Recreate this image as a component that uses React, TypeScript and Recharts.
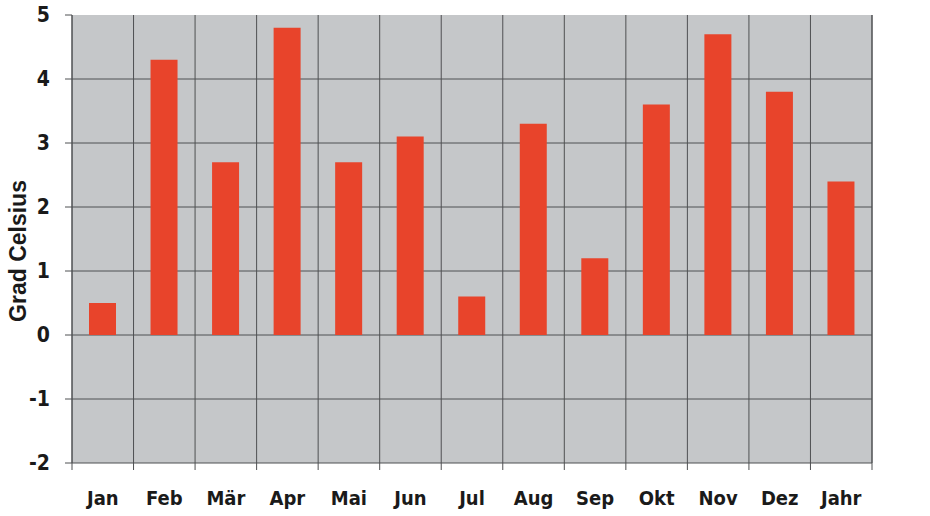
import { Bar, BarChart, CartesianGrid, XAxis, YAxis } from 'recharts'

const months = ['Jan', 'Feb', 'Mär', 'Apr', 'Mai', 'Jun', 'Jul', 'Aug', 'Sep', 'Okt', 'Nov', 'Dez', 'Jahr']
const deviation = [0.5, 4.3, 2.7, 4.8, 2.7, 3.1, 0.6, 3.3, 1.2, 3.6, 4.7, 3.8, 2.4]
const yTicks = [-2, -1, 0, 1, 2, 3, 4, 5]

const data = months.map((name, i) => ({ name, value: deviation[i] }))

const W = 930
const H = 516
const LEFT_W = 72
const RIGHT_W = 58
const STEP = (W - LEFT_W - RIGHT_W) / months.length
const FONT = '"DejaVu Sans Condensed", "Liberation Sans", Arial, sans-serif'
const GRID = '#4f5052'

const MonthTick = (props: any) => {
  const { x, y, payload, index } = props
  return (
    <g>
      <line x1={x - STEP / 2} y1={y} x2={x - STEP / 2} y2={y + 7} stroke={GRID} />
      {index === months.length - 1 && (
        <line x1={x + STEP / 2} y1={y} x2={x + STEP / 2} y2={y + 7} stroke={GRID} />
      )}
      <text x={x} y={y + 42} textAnchor='middle' fontFamily={FONT} fontWeight='bold' fontSize={20} fill='#1a1a1a'>
        {payload.value}
      </text>
    </g>
  )
}

const App = () => {
  return (
    <div style={{ position: 'absolute', left: 0, top: 0, width: W, height: H, background: '#fff' }}>
      <BarChart width={W} height={H} data={data} margin={{ top: 15, right: 0, bottom: 0, left: 0 }} barCategoryGap={0}>
        <CartesianGrid
          yAxisId='left'
          fill='#c5c7c9'
          fillOpacity={1}
          stroke={GRID}
          strokeWidth={1}
          // no line along the top edge (value 5), as in the original
          horizontalCoordinatesGenerator={({ offset }: any) =>
            yTicks.slice(0, -1).map((t) => offset.top + ((5 - t) / 7) * offset.height)
          }
          verticalCoordinatesGenerator={({ offset }: any) =>
            [...months, ''].map((_, i) => offset.left + (i * offset.width) / months.length)
          }
        />
        <XAxis
          dataKey='name'
          height={53}
          axisLine={false}
          tickLine={false}
          tickSize={0}
          tickMargin={0}
          interval={0}
          tick={<MonthTick />}
        />
        <YAxis
          yAxisId='left'
          width={LEFT_W}
          domain={[-2, 5]}
          ticks={yTicks}
          axisLine={{ stroke: GRID }}
          tickLine={{ stroke: GRID }}
          tickSize={7}
          tickMargin={15}
          tick={{ fontFamily: FONT, fontWeight: 'bold', fontSize: 21, fill: '#1a1a1a' }}
          label={{
            content: ({ viewBox }: any) => (
              <text
                x={viewBox.x + 26}
                y={viewBox.y + viewBox.height / 2 + 12}
                transform={`rotate(-90 ${viewBox.x + 26} ${viewBox.y + viewBox.height / 2 + 12})`}
                textAnchor='middle'
                fontFamily='"Liberation Sans", Arial, sans-serif'
                fontWeight='bold'
                fontSize={23}
                fill='#1a1a1a'
              >
                Grad Celsius
              </text>
            ),
          }}
        />
        <YAxis
          yAxisId='right'
          orientation='right'
          width={RIGHT_W}
          domain={[-2, 5]}
          ticks={yTicks}
          axisLine={{ stroke: GRID }}
          tickLine={{ stroke: GRID }}
          tickSize={10}
          tickMargin={14}
          tick={{ fontFamily: FONT, fontWeight: 'bold', fontSize: 21, fill: '#1a1a1a' }}
        />
        <Bar yAxisId='left' dataKey='value' fill='#e8442b' barSize={27} isAnimationActive={false} />
      </BarChart>
    </div>
  )
}

export default App
